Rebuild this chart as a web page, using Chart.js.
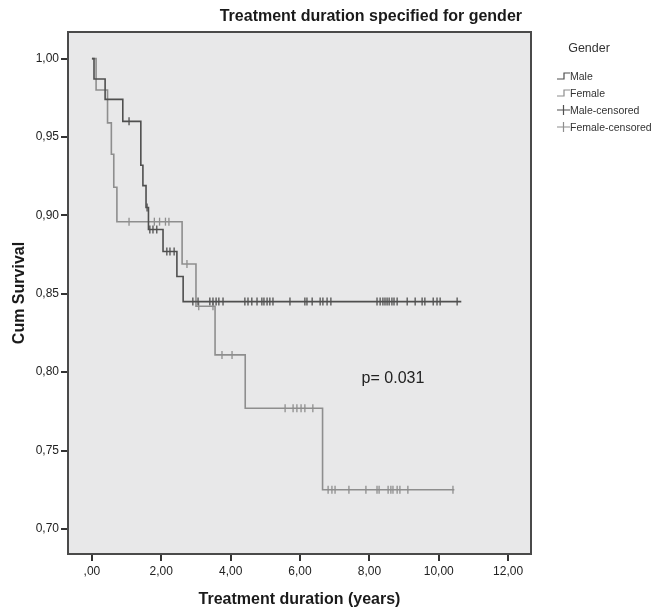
<!DOCTYPE html>
<html>
<head>
<meta charset="utf-8">
<script src="https://cdn.jsdelivr.net/npm/chart.js@4.4.1/dist/chart.umd.min.js"></script>
<style>
  html, body { margin: 0; padding: 0; background: #fff; }
  canvas { display: block; }
</style>
</head>
<body>
<canvas id="kmChart" width="654" height="613"></canvas>
<script>
// Kaplan-Meier steps (time in years, cumulative survival)
const maleTimes = [0, 0.06, 0.38, 0.89, 1.41, 1.47, 1.56, 1.63, 2.05, 2.45, 2.63, 10.65];
const maleSurv = [1, 0.987, 0.974, 0.960, 0.932, 0.919, 0.905, 0.891, 0.877, 0.861, 0.845, 0.845];
const femaleTimes = [0, 0.12, 0.45, 0.56, 0.63, 0.72, 2.60, 3.00, 3.55, 4.42, 6.65, 10.45];
const femaleSurv = [1, 0.980, 0.959, 0.939, 0.918, 0.896, 0.869, 0.842, 0.811, 0.777, 0.725, 0.725];

// censoring times
const maleCensored = [1.07, 1.59, 1.67, 1.76, 1.87, 2.16, 2.25, 2.37,
  2.91, 3.06, 3.40, 3.49, 3.58, 3.66, 3.78, 4.41, 4.50, 4.61, 4.76, 4.90, 4.96,
  5.05, 5.13, 5.22, 5.71, 6.14, 6.20, 6.35, 6.58, 6.66, 6.78, 6.89,
  8.22, 8.31, 8.39, 8.45, 8.51, 8.57, 8.65, 8.71, 8.80, 9.09, 9.32, 9.52,
  9.60, 9.84, 9.95, 10.04, 10.53];
const femaleCensored = [1.07, 1.80, 1.95, 2.12, 2.22, 2.74, 3.08, 3.49, 3.75, 4.04,
  5.57, 5.80, 5.91, 6.03, 6.14, 6.37, 6.81, 6.92, 7.01, 7.41, 7.90, 8.22, 8.28,
  8.54, 8.62, 8.68, 8.80, 8.88, 9.11, 10.41];

// axis ticks
const xTickValues = [0, 2, 4, 6, 8, 10, 12];
const xTickLabels = [',00', '2,00', '4,00', '6,00', '8,00', '10,00', '12,00'];
const yTickValues = [0.70, 0.75, 0.80, 0.85, 0.90, 0.95, 1.00];
const yTickLabels = ['0,70', '0,75', '0,80', '0,85', '0,90', '0,95', '1,00'];

const legendTitle = 'Gender';
const legendItems = ['Male', 'Female', 'Male-censored', 'Female-censored'];
const pValueText = 'p= 0.031';

const maleColor = '#4f4f4f';
const femaleColor = '#8e8e8e';
const font = 'Liberation Sans, Arial, sans-serif';

// survival level in effect at time t
function survAt(times, surv, t) {
  let s = surv[0];
  for (let i = 0; i < times.length; i++) {
    if (times[i] <= t) s = surv[i];
  }
  return s;
}

const toPoints = (times, surv) => times.map((t, i) => ({ x: t, y: surv[i] }));
const censorPoints = (cens, times, surv) => cens.map(t => ({ x: t, y: survAt(times, surv, t) }));

const decorPlugin = {
  id: 'decor',
  beforeDraw(chart) {
    const { ctx, chartArea: a } = chart;
    ctx.save();
    ctx.fillStyle = '#e8e8e9';
    ctx.fillRect(a.left, a.top, a.right - a.left, a.bottom - a.top);
    ctx.restore();
  },
  afterDraw(chart) {
    const { ctx, chartArea: a, scales } = chart;
    ctx.save();
    // frame
    ctx.strokeStyle = '#4a4a4a';
    ctx.lineWidth = 2;
    ctx.strokeRect(a.left, a.top, a.right - a.left, a.bottom - a.top);

    // title
    ctx.fillStyle = '#1a1a1a';
    ctx.font = 'bold 16px ' + font;
    ctx.textAlign = 'right';
    ctx.textBaseline = 'middle';
    ctx.fillText('Treatment duration specified for gender', a.right - 9, 17);

    // p value
    ctx.font = '16px ' + font;
    ctx.textAlign = 'center';
    ctx.fillStyle = '#222';
    ctx.fillText(pValueText, scales.x.getPixelForValue(8.68), scales.y.getPixelForValue(0.796));

    // legend
    const lx = a.right + 26;
    ctx.font = '12.5px ' + font;
    ctx.fillStyle = '#333';
    ctx.fillText(legendTitle, lx + 32, 49);
    ctx.textAlign = 'left';
    ctx.font = '10.5px ' + font;
    const colors = [maleColor, femaleColor, maleColor, femaleColor];
    legendItems.forEach((label, i) => {
      const y = 76 + i * 17;
      ctx.strokeStyle = colors[i];
      ctx.lineWidth = 1.2;
      ctx.beginPath();
      if (i < 2) {
        ctx.moveTo(lx, y + 3);
        ctx.lineTo(lx + 7, y + 3);
        ctx.lineTo(lx + 7, y - 3);
        ctx.lineTo(lx + 13, y - 3);
      } else {
        ctx.moveTo(lx, y);
        ctx.lineTo(lx + 13, y);
        ctx.moveTo(lx + 6.5, y - 5);
        ctx.lineTo(lx + 6.5, y + 5);
      }
      ctx.stroke();
      ctx.fillStyle = '#333';
      ctx.fillText(label, lx + 13, y + 1);
    });
    ctx.restore();
  }
};

const ctx = document.getElementById('kmChart').getContext('2d');
const chart = new Chart(ctx, {
  type: 'scatter',
  data: {
    datasets: [
      {
        label: 'Male',
        type: 'line',
        data: toPoints(maleTimes, maleSurv),
        stepped: true,
        borderColor: maleColor,
        borderWidth: 1.6,
        pointRadius: 0,
        fill: false
      },
      {
        label: 'Female',
        type: 'line',
        data: toPoints(femaleTimes, femaleSurv),
        stepped: true,
        borderColor: femaleColor,
        borderWidth: 1.6,
        pointRadius: 0,
        fill: false
      },
      {
        label: 'Male-censored',
        data: censorPoints(maleCensored, maleTimes, maleSurv),
        pointStyle: 'line',
        rotation: 90,
        pointRadius: 4,
        borderColor: maleColor,
        borderWidth: 1.3
      },
      {
        label: 'Female-censored',
        data: censorPoints(femaleCensored, femaleTimes, femaleSurv),
        pointStyle: 'line',
        rotation: 90,
        pointRadius: 4,
        borderColor: femaleColor,
        borderWidth: 1.3
      }
    ]
  },
  options: {
    responsive: false,
    animation: false,
    layout: { padding: { top: 32, right: 123, left: 0, bottom: 0 } },
    plugins: {
      legend: { display: false },
      tooltip: { enabled: false }
    },
    scales: {
      x: {
        type: 'linear',
        min: -0.69,
        max: 12.66,
        afterBuildTicks: scale => { scale.ticks = xTickValues.map(v => ({ value: v })); },
        afterFit: scale => { scale.height = 59; },
        ticks: {
          callback: v => xTickLabels[xTickValues.indexOf(v)],
          color: '#222',
          font: { family: font, size: 12 },
          padding: 3,
          maxRotation: 0,
          autoSkip: false
        },
        grid: { drawOnChartArea: false, drawTicks: true, tickLength: 7, color: '#333', lineWidth: 2 },
        border: { display: true, color: '#4a4a4a', width: 2 },
        title: {
          display: true,
          text: 'Treatment duration (years)',
          color: '#1a1a1a',
          font: { family: font, size: 16, weight: 'bold' },
          padding: { top: 0, bottom: 4 }
        }
      },
      y: {
        type: 'linear',
        min: 0.684,
        max: 1.017,
        afterBuildTicks: scale => { scale.ticks = yTickValues.map(v => ({ value: v })); },
        afterFit: scale => { scale.width = 68; },
        ticks: {
          callback: v => yTickLabels[yTickValues.findIndex(t => Math.abs(t - v) < 1e-6)],
          color: '#222',
          font: { family: font, size: 12 },
          padding: 2,
          autoSkip: false
        },
        grid: { drawOnChartArea: false, drawTicks: true, tickLength: 7, color: '#333', lineWidth: 2 },
        border: { display: true, color: '#4a4a4a', width: 2 },
        title: {
          display: true,
          text: 'Cum Survival',
          color: '#1a1a1a',
          font: { family: font, size: 16, weight: 'bold' },
          padding: { top: 10, bottom: 0 }
        }
      }
    }
  },
  plugins: [decorPlugin]
});
</script>
</body>
</html>
